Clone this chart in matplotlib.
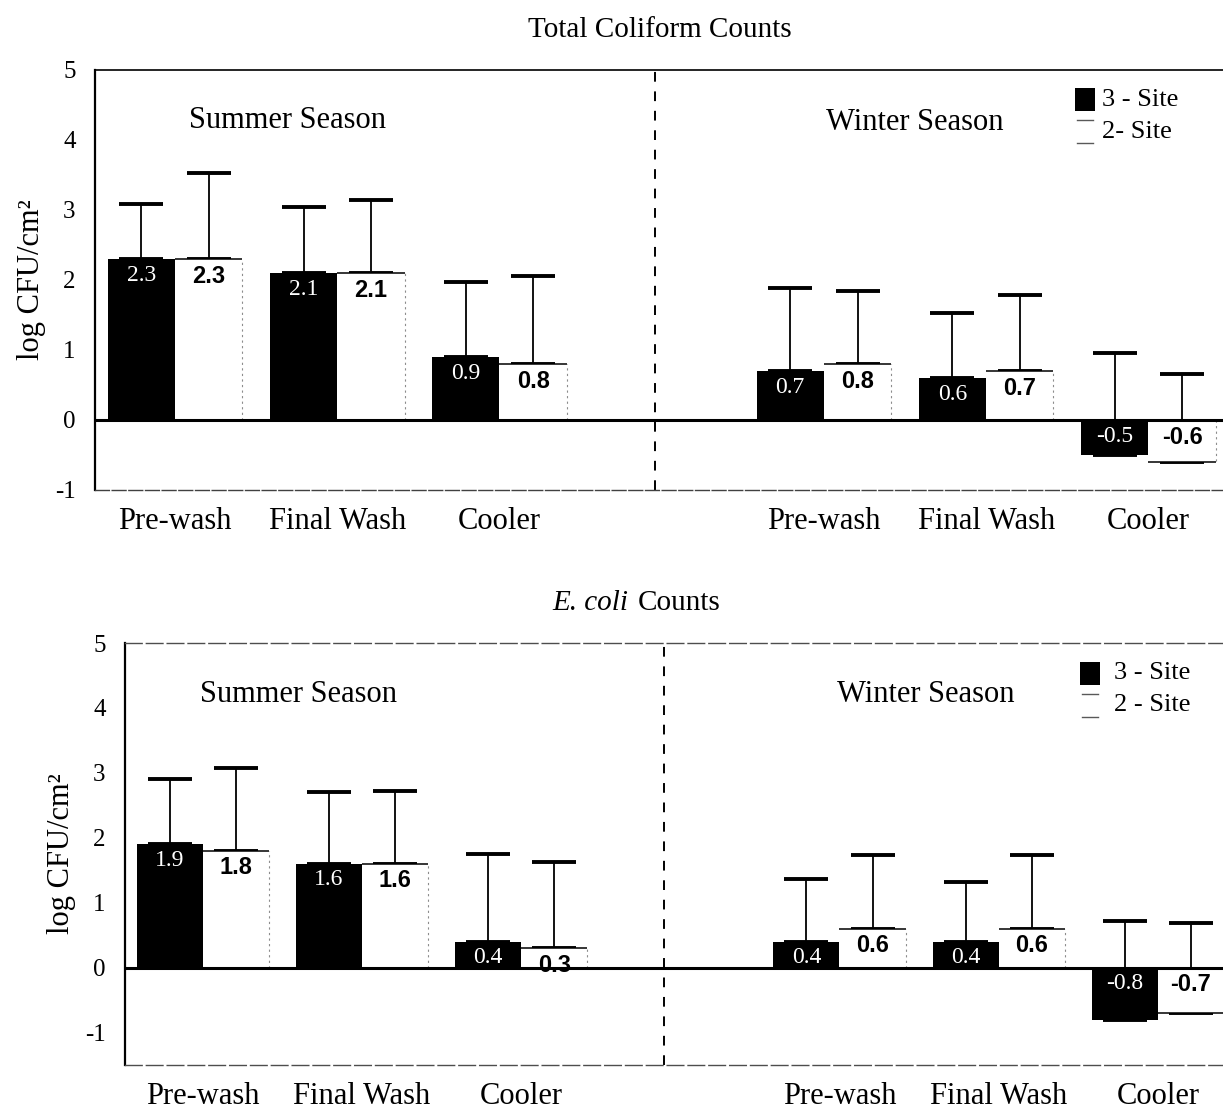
import matplotlib
matplotlib.use("Agg")
import matplotlib.pyplot as plt
from matplotlib.patches import Rectangle
from matplotlib.lines import Line2D

plt.rcParams['font.family'] = ['Liberation Serif', 'DejaVu Serif']

# ---------------- data ----------------
stages = ["Pre-wash", "Final Wash", "Cooler", "Pre-wash", "Final Wash", "Cooler"]
seasons = ["Summer Season", "Winter Season"]
series_names = ["3 - Site", "2- Site"]
series_names_b = ["3 - Site", "2 - Site"]

tc_3site = [2.3, 2.1, 0.9, 0.7, 0.6, -0.5]
tc_2site = [2.3, 2.1, 0.8, 0.8, 0.7, -0.6]
tc_3site_sd = [0.79, 0.94, 1.07, 1.18, 0.93, 1.45]
tc_2site_sd = [1.23, 1.04, 1.26, 1.04, 1.08, 1.25]

ec_3site = [1.9, 1.6, 0.4, 0.4, 0.4, -0.8]
ec_2site = [1.8, 1.6, 0.3, 0.6, 0.6, -0.7]
ec_3site_sd = [1.01, 1.10, 1.35, 0.96, 0.92, 1.52]
ec_2site_sd = [1.28, 1.12, 1.33, 1.14, 1.13, 1.39]

positions = [0, 1, 2, 4, 5, 6]   # slot 3 left empty between seasons
yticks = [-1, 0, 1, 2, 3, 4, 5]

W, H = 1223, 1110
fig = plt.figure(figsize=(W / 100, H / 100), dpi=100)
fig.patch.set_facecolor('white')

bw = 0.415


def panel(ax, v3, v2, s3, s2, ylo, xlim, divider_x, leg_names, leg_xy, season_xy):
    ax.set_xlim(*xlim)
    ax.set_ylim(ylo, 5)
    x3 = [p - bw / 2 for p in positions]
    x2 = [p + bw / 2 for p in positions]
    # error bars (behind bars)
    ax.errorbar(x3, v3, yerr=[[0] * 6, s3], fmt='none', ecolor='black',
                elinewidth=1.3, capsize=16, capthick=2.8, zorder=1)
    ax.errorbar(x2, v2, yerr=[[0] * 6, s2], fmt='none', ecolor='black',
                elinewidth=1.3, capsize=16, capthick=2.8, zorder=1)
    ax.bar(x3, v3, width=bw, color='black', edgecolor='none', zorder=2)
    ax.bar(x2, v2, width=bw, color='white', edgecolor='none', zorder=2)
    # white bar outline: top edge solid, right edge faint dotted
    ax.hlines(v2, [x - bw / 2 for x in x2], [x + bw / 2 for x in x2],
              colors='black', linewidth=1.1, zorder=3)
    ax.vlines([x + bw / 2 for x in x2], 0, v2, colors='0.55',
              linestyles=(0, (2, 3)), linewidth=0.8, zorder=3)
    # zero line
    ax.axhline(0, color='black', linewidth=2.2, zorder=4)
    # divider
    ax.axvline(divider_x, color='black', linewidth=1.4,
               linestyle=(0, (5, 5)), zorder=1)
    # value labels
    for x, v in zip(x3, v3):
        ax.annotate(f"{v:.1f}", (x, max(v, 0)), xytext=(0, -4),
                    textcoords='offset points', ha='center', va='top',
                    color='white', fontsize=17, zorder=5)
    for x, v in zip(x2, v2):
        ax.annotate(f"{v:.1f}", (x, max(v, 0)), xytext=(0, -4),
                    textcoords='offset points', ha='center', va='top',
                    color='black', fontsize=17, fontweight='bold',
                    family=['Liberation Sans Narrow', 'Liberation Sans'],
                    zorder=5)
    # axes style
    ax.set_yticks(yticks)
    ax.set_yticklabels([str(t) for t in yticks], fontsize=18)
    ax.set_xticks(positions)
    ax.set_xticklabels(stages, fontsize=22)
    ax.tick_params(axis='both', length=0)
    ax.tick_params(axis='x', pad=12)
    ax.tick_params(axis='y', pad=14)
    ax.spines['right'].set_visible(False)
    ax.spines['left'].set_linewidth(1.6)
    ax.set_ylabel("log CFU/cm²", fontsize=22, labelpad=6)
    # seasons
    ax.text(season_xy[0][0], season_xy[0][1], seasons[0], transform=ax.transAxes,
            ha='center', va='center', fontsize=22)
    ax.text(season_xy[1][0], season_xy[1][1], seasons[1], transform=ax.transAxes,
            ha='center', va='center', fontsize=22)
    # legend (manual)
    lx, ly_top, tx = leg_xy
    sq_w = 20 / (ax.bbox.width)
    sq_h = 23 / (ax.bbox.height)
    ax.add_patch(Rectangle((lx, ly_top - sq_h), sq_w, sq_h, transform=ax.transAxes,
                           facecolor='black', edgecolor='none', clip_on=False))
    gap = 32 / ax.bbox.height
    y2 = ly_top - gap
    for yy in (y2, y2 - sq_h):
        ax.add_line(Line2D([lx + 0.002, lx + sq_w - 0.002], [yy, yy],
                           transform=ax.transAxes, color='0.35', linewidth=1.0))
    ax.text(tx, ly_top - sq_h / 2, leg_names[0], transform=ax.transAxes,
            ha='left', va='center', fontsize=19)
    ax.text(tx, ly_top - sq_h / 2 - gap, leg_names[1], transform=ax.transAxes,
            ha='left', va='center', fontsize=19)


# ---------------- top panel ----------------
ax1 = fig.add_axes([95 / W, 1 - 490 / H, (W - 95) / W, 420 / H])
panel(ax1, tc_3site, tc_2site, tc_3site_sd, tc_2site_sd, -1, (-0.493, 6.46), 2.96,
      series_names, (0.869, 0.957, 0.893), ((0.171, 0.879), (0.727, 0.876)))
ax1.spines['top'].set_linewidth(1.2)
ax1.spines['bottom'].set_linewidth(1.0)
ax1.spines['bottom'].set_color('0.25')
ax1.spines['bottom'].set_linestyle((0, (10, 2)))

# ---------------- bottom panel ----------------
ax2 = fig.add_axes([125 / W, 1 - 1065 / H, (W - 125) / W, 422 / H])
panel(ax2, ec_3site, ec_2site, ec_3site_sd, ec_2site_sd, -1.5, (-0.49, 6.41), 2.90,
      series_names_b, (0.870, 0.955, 0.901), ((0.158, 0.877), (0.729, 0.877)))
for sp in ('top', 'bottom'):
    ax2.spines[sp].set_linewidth(1.0)
    ax2.spines[sp].set_color('0.3')
    ax2.spines[sp].set_linestyle((0, (12, 3)))

# titles
fig.text(660 / W, 1 - 30 / H, "Total Coliform Counts", ha='center', va='center', fontsize=21)
fig.text(628 / W, 1 - 603 / H, "E. coli", ha='right', va='center', fontsize=21, style='italic')
fig.text(638 / W, 1 - 603 / H, "Counts", ha='left', va='center', fontsize=21)

fig.savefig("out.png", dpi=100, facecolor='white')
